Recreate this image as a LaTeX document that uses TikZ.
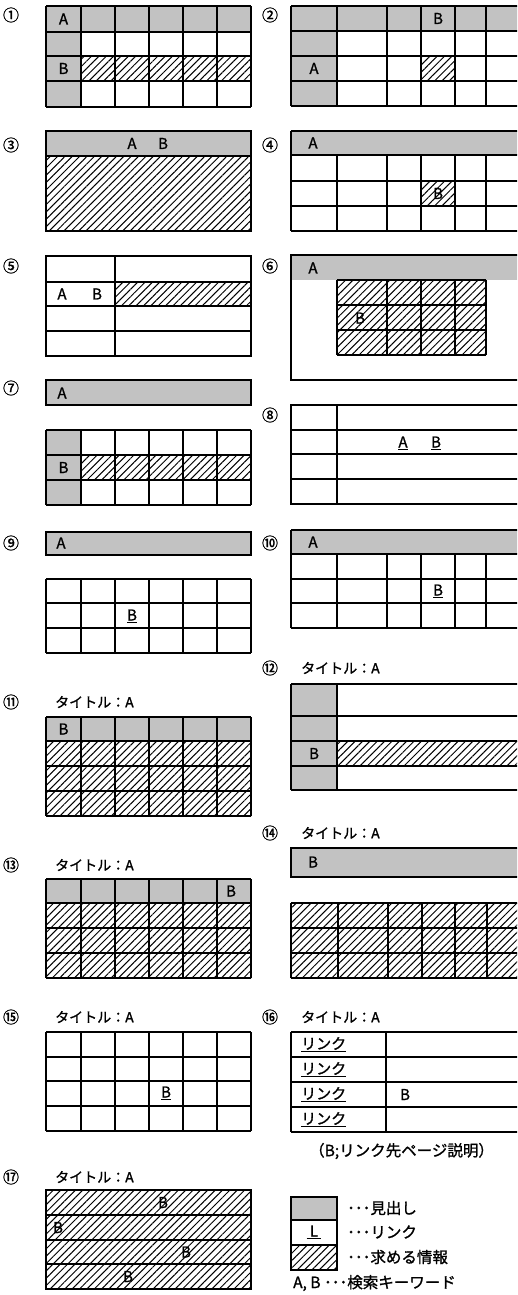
\documentclass[tikz,border=0pt]{standalone}
\usepackage{fontspec}
\setmainfont{Noto Sans CJK JP}[FakeBold=1.2]
\usetikzlibrary{patterns.meta}
\tikzset{
  ln/.style={line width=1.1pt,draw=black},
  head/.style={fill=black!24},
  hatch/.style={pattern={Lines[angle=45,distance=5.2pt,line width=1pt]}},
  lbl/.style={font=\fontsize{15}{15}\selectfont,inner sep=0pt},
  ttl/.style={font=\fontsize{14}{14}\selectfont,inner sep=0pt,anchor=west},
  captxt/.style={font=\fontsize{15.5}{15.5}\selectfont,inner sep=0pt,anchor=west},
  leg/.style={font=\fontsize{15.5}{15.5}\selectfont,inner sep=0pt,anchor=west},
  num/.style={font=\fontsize{16}{16}\selectfont,inner sep=0pt},
}
\begin{document}
\begin{tikzpicture}[x=1pt,y=-1pt]
\useasboundingbox (0,0) rectangle (517,1295);
\fill[white] (0,0) rectangle (517,1295);
\clip (0,0) rectangle (517,1295);
% ---------- 1
\fill[head] (46,6) rectangle (251,32); \fill[head] (46,32) rectangle (81,107);
\fill[hatch] (81,56) rectangle (251,81);
\foreach \x in {46,81,115,149,183,217,251} \draw[ln] (\x,6) -- (\x,107);
\foreach \y in {6,32,56,81,107} \draw[ln] (46,\y) -- (251,\y);
\node[lbl] (p1a) at (63.5,19) {A}; \node[lbl] (p1b) at (63.5,68.5) {B};
\node[num] (n1) at (11,15) {①};
% ---------- 2
\fill[head] (291,6) rectangle (530,31); \fill[head] (291,31) rectangle (337,106);
\fill[hatch] (421,56) rectangle (455,81);
\foreach \x in {291,337,387,421,455,486} \draw[ln] (\x,6) -- (\x,106);
\foreach \y in {6,31,56,81,106} \draw[ln] (291,\y) -- (530,\y);
\node[lbl] (p2b) at (438,18.5) {B}; \node[lbl] (p2a) at (314,68.5) {A};
\node[num] (n2) at (270,15) {②};
% ---------- 3
\fill[head] (46,131) rectangle (251,156);
\fill[hatch] (46,156) rectangle (251,231);
\draw[ln] (46,131) rectangle (251,231); \draw[ln] (46,156) -- (251,156);
\node[lbl] (p3a) at (132,143.5) {A}; \node[lbl] (p3b) at (163,143.5) {B};
\node[num] (n3) at (11,145) {③};
% ---------- 4
\fill[head] (291,131) rectangle (530,155);
\fill[hatch] (421,181) rectangle (455,206);
\foreach \x in {337,387,421,455,486} \draw[ln] (\x,155) -- (\x,231);
\draw[ln] (291,131) -- (291,231);
\foreach \y in {131,155,181,206,231} \draw[ln] (291,\y) -- (530,\y);
\node[lbl] (p4a) at (313,143) {A}; \node[lbl] (p4b) at (438,193.5) {B};
\node[num] (n4) at (270,145) {④};
% ---------- 5
\fill[hatch] (115,282) rectangle (251,306);
\draw[ln] (46,256) rectangle (251,356); \draw[ln] (115,256) -- (115,356);
\foreach \y in {282,306,331} \draw[ln] (46,\y) -- (251,\y);
\node[lbl] (p5a) at (62,294) {A}; \node[lbl] (p5b) at (97,294) {B};
\node[num] (n5) at (11,266) {⑤};
% ---------- 6
\fill[head] (291,255) rectangle (530,280);
\fill[hatch] (337,280) rectangle (486,355);
\draw[ln] (291,255) rectangle (530,380);
\foreach \x in {337,387,421,455,486} \draw[ln] (\x,280) -- (\x,355);
\foreach \y in {280,305,330,355} \draw[ln] (337,\y) -- (486,\y);
\node[lbl] (p6a) at (313,268) {A}; \node[lbl] (p6b) at (360,318) {B};
\node[num] (n6) at (270,266) {⑥};
% ---------- 7
\fill[head] (46,380) rectangle (251,405); \draw[ln] (46,380) rectangle (251,405);
\node[lbl] (p7a) at (62,393) {A};
\fill[head] (46,430) rectangle (81,505);
\fill[hatch] (81,455) rectangle (251,480);
\foreach \x in {46,81,115,149,183,217,251} \draw[ln] (\x,430) -- (\x,505);
\foreach \y in {430,455,480,505} \draw[ln] (46,\y) -- (251,\y);
\node[lbl] (p7b) at (63.5,467.5) {B};
\node[num] (n7) at (11,388) {⑦};
% ---------- 8
\draw[ln] (291,405) rectangle (530,504); \draw[ln] (337,405) -- (337,504);
\foreach \y in {430,454,479} \draw[ln] (291,\y) -- (530,\y);
\node[lbl] (p8a) at (403,443) {\underline{A}}; \node[lbl] (p8b) at (436,443) {\underline{B}};
\node[num] (n8) at (270,415) {⑧};
% ---------- 9
\fill[head] (46,532) rectangle (251,555); \draw[ln] (46,532) rectangle (251,555);
\node[lbl] (p9a) at (61,543) {A};
\foreach \x in {46,81,115,149,183,217,251} \draw[ln] (\x,579) -- (\x,653);
\foreach \y in {579,603,628,653} \draw[ln] (46,\y) -- (251,\y);
\node[lbl] (p9b) at (132,616) {\underline{B}};
\node[num] (n9) at (11,543) {⑨};
% ---------- 10
\fill[head] (291,530) rectangle (530,554);
\draw[ln] (291,530) -- (291,628);
\foreach \x in {337,387,421,455,486} \draw[ln] (\x,554) -- (\x,628);
\foreach \y in {530,554,579,603,628} \draw[ln] (291,\y) -- (530,\y);
\node[lbl] (p10a) at (313,542) {A}; \node[lbl] (p10b) at (438,591) {\underline{B}};
\node[num] (n10) at (270,543) {⑩};
% ---------- 12
\node[num] (n12) at (270,668) {⑫};
\node[ttl] (t12) at (301,668) {タイトル：A};
\fill[head] (291,684) rectangle (337,790);
\fill[hatch] (337,741) rectangle (530,766);
\draw[ln] (291,684) -- (291,790); \draw[ln] (337,684) -- (337,790);
\foreach \y in {684,716,741,766,790} \draw[ln] (291,\y) -- (530,\y);
\node[lbl] (p12b) at (314,753.5) {B};
% ---------- 11
\node[num] (n11) at (11,702) {⑪};
\node[ttl] (t11) at (55,702) {タイトル：A};
\fill[head] (46,717) rectangle (251,741);
\fill[hatch] (46,741) rectangle (251,816);
\foreach \x in {46,81,115,149,183,217,251} \draw[ln] (\x,717) -- (\x,816);
\foreach \y in {717,741,766,791,816} \draw[ln] (46,\y) -- (251,\y);
\node[lbl] (p11b) at (63.5,729) {B};
% ---------- 14
\node[num] (n14) at (270,833) {⑭};
\node[ttl] (t14) at (301,833) {タイトル：A};
\fill[head] (291,848) rectangle (530,877); \draw[ln] (291,848) rectangle (530,877);
\node[lbl] (p14b) at (313,862) {B};
\fill[hatch] (291,903) rectangle (530,978);
\foreach \x in {291,338,388,422,455,487} \draw[ln] (\x,903) -- (\x,978);
\foreach \y in {903,928,953,978} \draw[ln] (291,\y) -- (530,\y);
% ---------- 13
\node[num] (n13) at (11,865) {⑬};
\node[ttl] (t13) at (55,865) {タイトル：A};
\fill[head] (46,879) rectangle (251,903);
\fill[hatch] (46,903) rectangle (251,978);
\foreach \x in {46,81,115,149,183,217,251} \draw[ln] (\x,879) -- (\x,978);
\foreach \y in {879,903,928,953,978} \draw[ln] (46,\y) -- (251,\y);
\node[lbl] (p13b) at (231,891) {B};
% ---------- 15
\node[num] (n15) at (11,1017) {⑮};
\node[ttl] (t15) at (55,1017) {タイトル：A};
\foreach \x in {46,81,115,149,183,217,251} \draw[ln] (\x,1032) -- (\x,1131);
\foreach \y in {1032,1057,1081,1106,1131} \draw[ln] (46,\y) -- (251,\y);
\node[lbl] (p15b) at (166,1093) {\underline{B}};
% ---------- 16
\node[num] (n16) at (270,1017) {⑯};
\node[ttl] (t16) at (301,1017) {タイトル：A};
\draw[ln] (291,1032) -- (291,1132); \draw[ln] (386,1032) -- (386,1132);
\foreach \y in {1032,1057,1082,1107,1132} \draw[ln] (291,\y) -- (530,\y);
\foreach \y/\n in {1044.5/a,1069.5/b,1094.5/c,1119.5/d} \node[lbl,anchor=west] (p16\n) at (301,\y) {\underline{リンク}};
\node[lbl] (p16b) at (405,1094.5) {B};
\node[captxt] (c16) at (309,1151) {（B;リンク先ページ説明）};
% ---------- 17
\node[num] (n17) at (11,1177) {⑰};
\node[ttl] (t17) at (55,1177) {タイトル：A};
\fill[hatch] (46,1190) rectangle (251,1289);
\draw[ln] (46,1190) rectangle (251,1289);
\foreach \y in {1215,1240,1264} \draw[ln] (46,\y) -- (251,\y);
\node[lbl] (p17a) at (163,1202.5) {B};
\node[lbl] (p17b) at (58,1227.5) {B};
\node[lbl] (p17c) at (186,1252) {B};
\node[lbl] (p17d) at (128,1276.5) {B};
% ---------- legend
\fill[head] (291,1197) rectangle (337,1220);
\fill[hatch] (291,1245) rectangle (337,1270);
\draw[ln] (291,1197) rectangle (337,1270);
\draw[ln] (291,1220) -- (337,1220); \draw[ln] (291,1245) -- (337,1245);
\node[lbl] (lgL) at (314,1232) {\underline{\ L\ }};
\node[leg] (lg1) at (347,1208) {･･･見出し};
\node[leg] (lg2) at (347,1232) {･･･リンク};
\node[leg] (lg3) at (347,1257) {･･･求める情報};
\node[leg] (lg4) at (293,1283) {A,\ B\ ･･･検索キーワード};
\end{tikzpicture}
\end{document}
